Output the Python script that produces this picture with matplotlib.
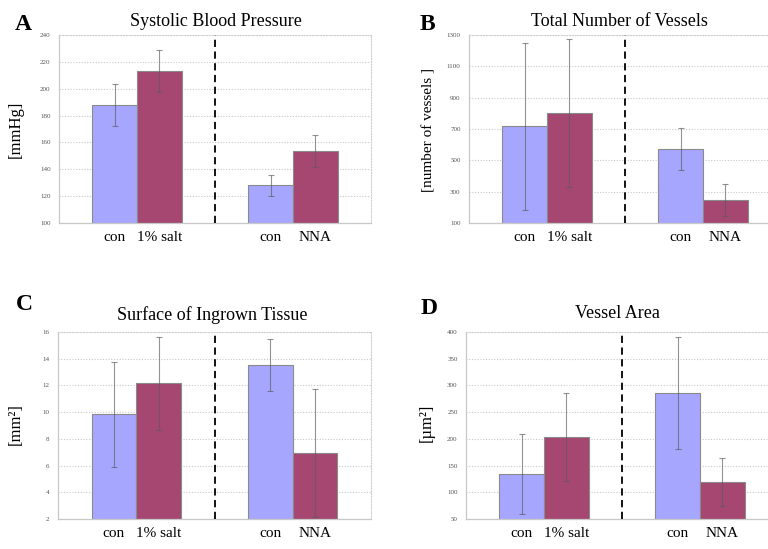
"""Four-panel bar chart: blood pressure and vessel measures, con vs treatment."""
import matplotlib
matplotlib.use("Agg")
import matplotlib.pyplot as plt

plt.rcParams["font.family"] = ["Liberation Serif", "DejaVu Serif"]

groups = ["con", "1% salt", "con", "NNA"]

bp_mean = [188, 213, 128, 153.5]
bp_err = [15.6, 15.5, 7.6, 12]

vessels_mean = [717, 804, 572, 247]
vessels_err = [533, 472, 134, 105]

tissue_mean = [9.84, 12.15, 13.54, 6.93]
tissue_err = [3.92, 3.5, 1.93, 4.8]

area_mean = [135, 203.5, 286, 118.4]
area_err = [75, 83, 105, 45]

W, H = 768, 549
BLUE = "#a6a6ff"
MAROON = "#a54771"
xpos = [1.25, 2.25, 4.75, 5.75]

fig = plt.figure(figsize=(W / 100, H / 100), dpi=100)


def px_axes(left, top, right, bottom):
    return fig.add_axes([left / W, 1 - bottom / H, (right - left) / W, (bottom - top) / H])


def panel(ax, means, errs, ylim, step):
    ax.bar(xpos, means, width=1.0, color=[BLUE, MAROON, BLUE, MAROON],
           edgecolor="#8a8a8a", linewidth=0.8, zorder=2)
    ax.errorbar(xpos, means, yerr=errs, fmt="none", ecolor="#5a5a5a", alpha=0.65,
                elinewidth=0.8, capsize=2, capthick=0.8, zorder=3)
    ax.axvline(3.5, color="black", linestyle=(0, (4, 2.5)), linewidth=1.3, zorder=4)
    ax.set_xlim(0, 7)
    ax.set_ylim(*ylim)
    ax.set_yticks(range(ylim[0], ylim[1] + 1, step))
    ax.set_xticks(xpos)
    ax.set_xticklabels(groups, fontsize=11)
    ax.tick_params(axis="y", length=0, labelsize=5, labelcolor="#555555", pad=6)
    ax.tick_params(axis="x", length=0, pad=6)
    ax.yaxis.grid(True, linestyle=(0, (1, 1.5)), color="#c8c8c8", linewidth=0.8)
    ax.set_axisbelow(True)
    for side in ("left", "bottom"):
        ax.spines[side].set_color("#c8c8c8")
        ax.spines[side].set_linewidth(0.9)
    for side in ("top", "right"):
        ax.spines[side].set_color("#d0d0d0")
        ax.spines[side].set_linestyle((0, (1, 1.5)))
        ax.spines[side].set_linewidth(0.8)


def ftext(x, y, s, **kw):
    fig.text(x / W, 1 - y / H, s, **kw)


axA = px_axes(59, 35, 371, 223)
panel(axA, bp_mean, bp_err, (100, 240), 20)
axB = px_axes(469, 35, 781, 223)
panel(axB, vessels_mean, vessels_err, (100, 1300), 200)
axC = px_axes(58, 332, 371, 519)
panel(axC, tissue_mean, tissue_err, (2, 16), 2)
axD = px_axes(466, 332, 778, 519)
panel(axD, area_mean, area_err, (50, 400), 50)

tkw = dict(ha="center", va="center", fontsize=13)
ftext(216, 21, "Systolic Blood Pressure", **tkw)
ftext(619, 21, "Total Number of Vessels", **tkw)
ftext(212, 315, "Surface of Ingrown Tissue", **tkw)
ftext(617, 314, "Vessel Area", **tkw)

lkw = dict(ha="left", va="center", fontsize=17, fontweight="bold")
ftext(15, 25, "A", **lkw)
ftext(420, 25, "B", **lkw)
ftext(16, 304, "C", **lkw)
ftext(421, 308, "D", **lkw)

ykw = dict(ha="center", va="center", rotation=90, fontsize=12)
ftext(16, 129, "[mmHg]", **ykw)
ftext(429, 130, "[number of vessels ]", **dict(ykw, fontsize=11))
ftext(16, 424, "[mm\u00b2]", **ykw)
ftext(427, 423, "[\u00b5m\u00b2]", **ykw)

fig.savefig("out.png", dpi=100)
